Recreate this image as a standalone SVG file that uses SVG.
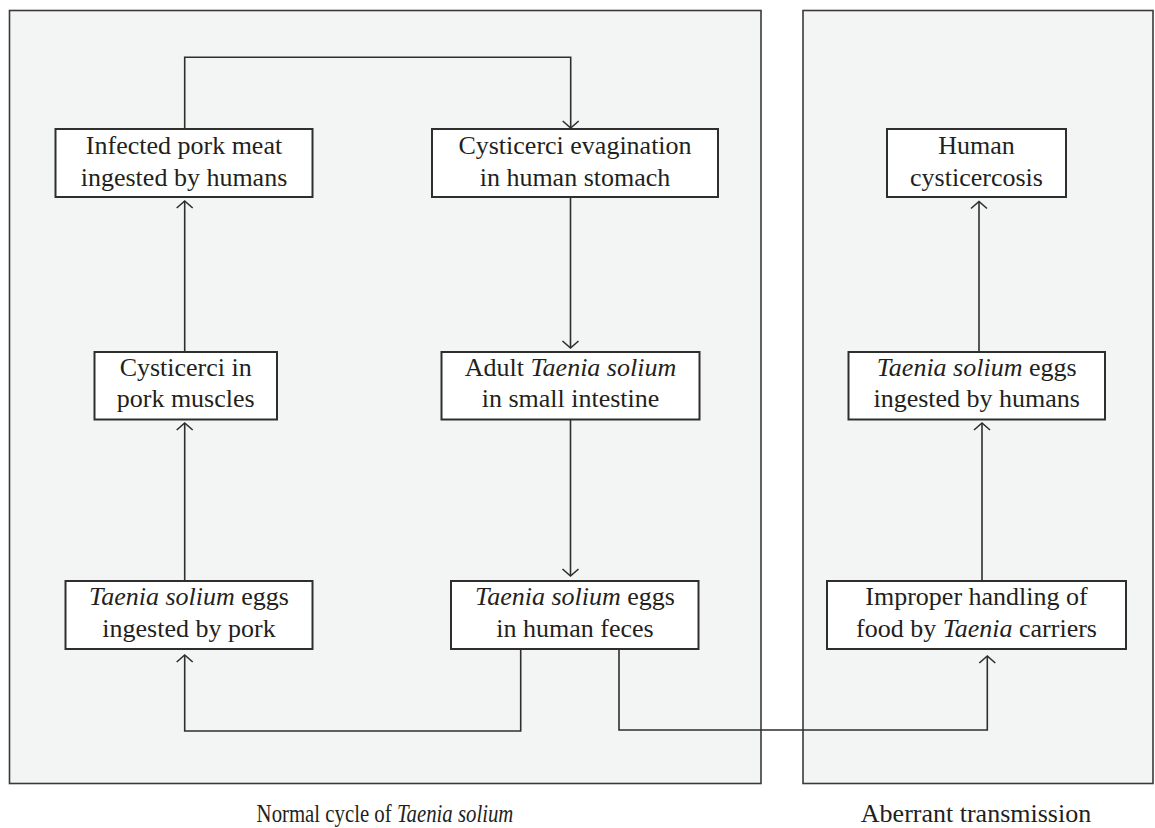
<svg xmlns="http://www.w3.org/2000/svg" width="1155" height="828" viewBox="0 0 1155 828">
<defs>
<style>
.panel{fill:#f3f4f4;stroke:#3a3a3a;stroke-width:1.6}
.box{fill:#ffffff;stroke:#2e2e2e;stroke-width:2}
.conn{fill:none;stroke:#2e2e2e;stroke-width:1.6}
.t{font-family:"Liberation Serif","Times New Roman",serif;font-size:26px;fill:#231f20;text-anchor:middle}
.i{font-style:italic}
</style>
<marker id="arr" viewBox="-10 -10 20 20" markerWidth="20" markerHeight="20" refX="0" refY="0" orient="auto" markerUnits="userSpaceOnUse">
<path d="M-7,-8 L0,0 L-7,8" fill="none" stroke="#2e2e2e" stroke-width="1.6"/>
</marker>
</defs>
<rect width="1155" height="828" fill="#ffffff"/>
<g id="panel-normal">
<rect class="panel" x="9.5" y="10.5" width="751.5" height="773"/>
<text class="t" transform="translate(385,822) scale(0.8,1)" x="0" y="0">Normal cycle of <tspan class="i">Taenia solium</tspan></text>
</g>
<g id="panel-aberrant">
<rect class="panel" x="803" y="10.5" width="350" height="773"/>
<text class="t" x="976" y="822">Aberrant transmission</text>
</g>
<g id="connectors">
<path class="conn" d="M184.7,129 V57.3 H570.7 V128" marker-end="url(#arr)"/>
<path class="conn" d="M570.5,197 V348" marker-end="url(#arr)"/>
<path class="conn" d="M570.5,419 V576" marker-end="url(#arr)"/>
<path class="conn" d="M184.7,581 V423" marker-end="url(#arr)"/>
<path class="conn" d="M184.7,352 V201" marker-end="url(#arr)"/>
<path class="conn" d="M520.7,649 V731 H184.7 V655" marker-end="url(#arr)"/>
<path class="conn" d="M619,649 V730 H987.3 V656" marker-end="url(#arr)"/>
<path class="conn" d="M982,581 V423" marker-end="url(#arr)"/>
<path class="conn" d="M979,352 V201.5" marker-end="url(#arr)"/>
</g>
<g id="n-infected-pork">
<rect class="box" x="55.5" y="129" width="257" height="68"/>
<text class="t" x="184" y="154">Infected pork meat</text>
<text class="t" x="184" y="186">ingested by humans</text>
</g>
<g id="n-evagination">
<rect class="box" x="432" y="129" width="286" height="68"/>
<text class="t" x="575" y="154">Cysticerci evagination</text>
<text class="t" x="575" y="186">in human stomach</text>
</g>
<g id="n-human-cysticercosis">
<rect class="box" x="887" y="129" width="179" height="68"/>
<text class="t" x="976.5" y="154">Human</text>
<text class="t" x="976.5" y="186">cysticercosis</text>
</g>
<g id="n-pork-muscles">
<rect class="box" x="94.5" y="352" width="182.5" height="67.5"/>
<text class="t" x="185.7" y="376">Cysticerci in</text>
<text class="t" x="185.7" y="407">pork muscles</text>
</g>
<g id="n-adult">
<rect class="box" x="441.5" y="352" width="258" height="67.5"/>
<text class="t" x="570.5" y="376">Adult <tspan class="i">Taenia solium</tspan></text>
<text class="t" x="570.5" y="407">in small intestine</text>
</g>
<g id="n-eggs-humans">
<rect class="box" x="848.5" y="352" width="256.5" height="67.5"/>
<text class="t" x="976.7" y="376"><tspan class="i">Taenia solium</tspan> eggs</text>
<text class="t" x="976.7" y="407">ingested by humans</text>
</g>
<g id="n-eggs-pork">
<rect class="box" x="65.5" y="581" width="247" height="68"/>
<text class="t" x="189" y="605"><tspan class="i">Taenia solium</tspan> eggs</text>
<text class="t" x="189" y="637">ingested by pork</text>
</g>
<g id="n-eggs-feces">
<rect class="box" x="451" y="581" width="247.5" height="68"/>
<text class="t" x="575" y="605"><tspan class="i">Taenia solium</tspan> eggs</text>
<text class="t" x="575" y="637">in human feces</text>
</g>
<g id="n-improper">
<rect class="box" x="827" y="581" width="299" height="68"/>
<text class="t" x="976.5" y="605">Improper handling of</text>
<text class="t" x="976.5" y="637">food by <tspan class="i">Taenia</tspan> carriers</text>
</g>
</svg>
